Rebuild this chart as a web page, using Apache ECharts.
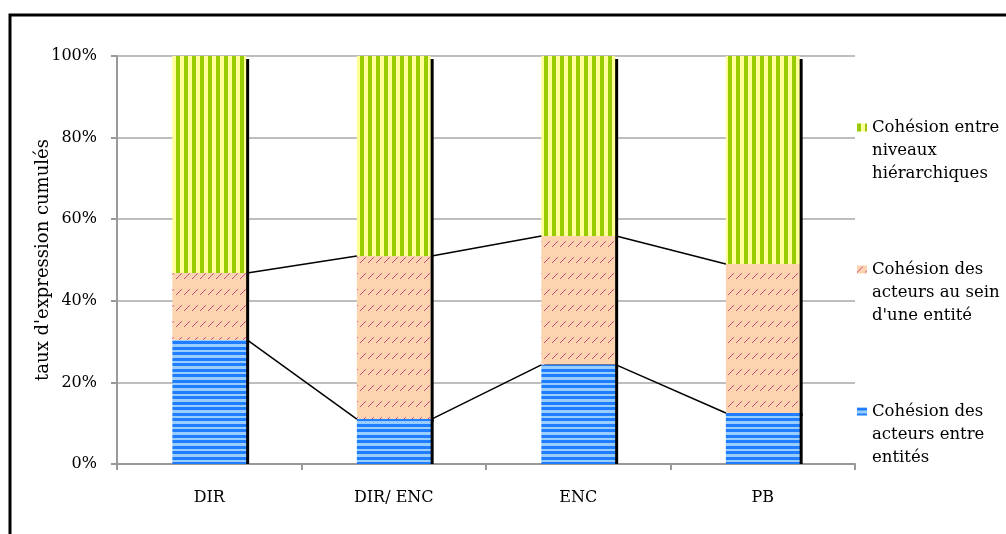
<!DOCTYPE html>
<html><head><meta charset="utf-8">
<script src="https://cdn.jsdelivr.net/npm/echarts@6/dist/echarts.min.js"></script>
<style>html,body{margin:0;padding:0;background:#fff}#c{width:1006px;height:534px}</style>
</head><body><div id="c"></div>
<script>
// ---- data ----
const categories = ['DIR', 'DIR/ ENC', 'ENC', 'PB'];
const nameEntre = 'Cohésion des acteurs entre entités';
const nameAuSein = "Cohésion des acteurs au sein d'une entité";
const nameNiveaux = 'Cohésion entre niveaux hiérarchiques';
const legendOrder = [nameNiveaux, nameAuSein, nameEntre];
const legendLines = {};
legendLines[nameNiveaux] = ['Cohésion entre', 'niveaux', 'hiérarchiques'];
legendLines[nameAuSein] = ['Cohésion des', 'acteurs au sein', "d'une entité"];
legendLines[nameEntre] = ['Cohésion des', 'acteurs entre', 'entités'];
const entreEntites = [30.4, 11.0, 24.3, 12.5];
const auSeinEntite = [16.4, 40.0, 31.6, 36.5];
const niveauxHier = [53.2, 49.0, 44.1, 51.0];
const yTickStep = 20;
const yAxisName = "taux d'expression cumulés";

// ---- patterns ----
function mk(w, h, draw) { const c = document.createElement('canvas'); c.width = w; c.height = h; draw(c.getContext('2d')); return c; }
const greenPat = mk(8, 4, g => { g.fillStyle = '#ffff99'; g.fillRect(0, 0, 8, 4); g.fillStyle = '#99cc00'; g.fillRect(0, 0, 4, 4); });
const bluePat = mk(4, 11, g => {
  g.fillStyle = '#99ccff'; g.fillRect(0, 0, 4, 11);
  g.fillStyle = '#1f7eff'; g.fillRect(0, 0, 4, 3); g.fillRect(0, 6, 4, 3);
});
const orangePat = mk(8, 16, g => {
  g.fillStyle = '#fcd5b0'; g.fillRect(0, 0, 8, 16);
  const pts = [[0, 6], [1, 5], [2, 4], [3, 3], [4, 2], [5, 1]];
  pts.forEach((p, k) => { g.fillStyle = k % 2 ? '#d8608f' : '#c2337a'; g.fillRect(p[0], p[1], 1, 1); });
});

// cumulative tops for series lines
const cumBlue = entreEntites.slice();
const cumOrange = entreEntites.map((v, i) => v + auSeinEntite[i]);
const lineData = [];
for (let i = 0; i < categories.length - 1; i++) lineData.push([i, cumBlue[i], cumBlue[i + 1], cumOrange[i], cumOrange[i + 1]]);

const FONT = 'DejaVu Serif';
const chart = echarts.init(document.getElementById('c'), null, { renderer: 'canvas' });
const shadowBase = { shadowColor: 'rgba(0,0,0,1)', shadowBlur: 1, shadowOffsetX: 3 };
chart.setOption({
  animation: false,
  backgroundColor: '#fff',
  grid: { left: 117, right: 151, top: 56, bottom: 70, outerBoundsMode: 'none' },
  graphic: [{ type: 'rect', shape: { x: 10, y: 15, width: 1200, height: 800 }, style: { fill: 'none', stroke: '#000', lineWidth: 3 }, z: 100 }],
  legend: {
    orient: 'vertical', left: 857, top: 70, padding: 0, itemGap: 27,
    itemWidth: 10, itemHeight: 8, icon: 'rect', selectedMode: false,
    data: legendOrder,
    // two blank lines on top so the first text line sits level with the icon
    formatter: n => '\n\n' + legendLines[n].join('\n'),
    itemStyle: { shadowBlur: 0, shadowOffsetX: 0, shadowOffsetY: 0, shadowColor: 'transparent', borderWidth: 0 },
    textStyle: { fontFamily: FONT, fontSize: 16.5, lineHeight: 23, color: '#000' }
  },
  xAxis: {
    type: 'category', data: categories, boundaryGap: true,
    axisLine: { show: true, lineStyle: { color: '#999', width: 2 } },
    axisTick: { show: true, alignWithLabel: false, length: 6, lineStyle: { color: '#999', width: 2 } },
    axisLabel: { color: '#000', fontFamily: FONT, fontSize: 16, margin: 26 },
    splitLine: { show: false }
  },
  yAxis: {
    type: 'value', min: 0, max: 100, interval: yTickStep,
    name: yAxisName, nameLocation: 'middle', nameGap: 65, nameRotate: 90, nameMoveOverlap: false,
    nameTextStyle: { fontFamily: FONT, fontSize: 18, color: '#000' },
    axisLine: { show: true, lineStyle: { color: '#999', width: 2 } },
    axisTick: { show: true, length: 6, lineStyle: { color: '#999', width: 2 } },
    axisLabel: { color: '#000', fontFamily: FONT, fontSize: 16, margin: 20, formatter: '{value}%' },
    splitLine: { show: true, lineStyle: { color: '#a8a8a8', width: 1.5 } }
  },
  series: [
    { name: nameEntre, type: 'bar', stack: 't', barWidth: '40%', z: 4, data: entreEntites,
      itemStyle: Object.assign({ color: { image: bluePat, repeat: 'repeat' }, shadowOffsetY: 0 }, shadowBase) },
    { name: nameAuSein, type: 'bar', stack: 't', barWidth: '40%', z: 3, data: auSeinEntite,
      itemStyle: Object.assign({ color: { image: orangePat, repeat: 'repeat' }, shadowOffsetY: 3 }, shadowBase) },
    { name: nameNiveaux, type: 'bar', stack: 't', barWidth: '40%', z: 2, data: niveauxHier,
      itemStyle: Object.assign({ color: { image: greenPat, repeat: 'repeat' }, shadowOffsetY: 3 }, shadowBase) },
    { type: 'custom', z: 10, silent: true, data: lineData,
      encode: { x: 0, y: 1 },
      renderItem: function (params, api) {
        const i = api.value(0);
        const hw = api.size([1, 0])[0] * 0.4 / 2;
        const a1 = api.coord([i, api.value(1)]), b1 = api.coord([i + 1, api.value(2)]);
        const a2 = api.coord([i, api.value(3)]), b2 = api.coord([i + 1, api.value(4)]);
        const st = { stroke: '#000', lineWidth: 1.5 };
        return { type: 'group', children: [
          { type: 'line', shape: { x1: a1[0] + hw + 1, y1: a1[1], x2: b1[0] - hw, y2: b1[1] }, style: st },
          { type: 'line', shape: { x1: a2[0] + hw + 1, y1: a2[1], x2: b2[0] - hw, y2: b2[1] }, style: st }
        ] };
      }
    }
  ]
});
</script></body></html>
